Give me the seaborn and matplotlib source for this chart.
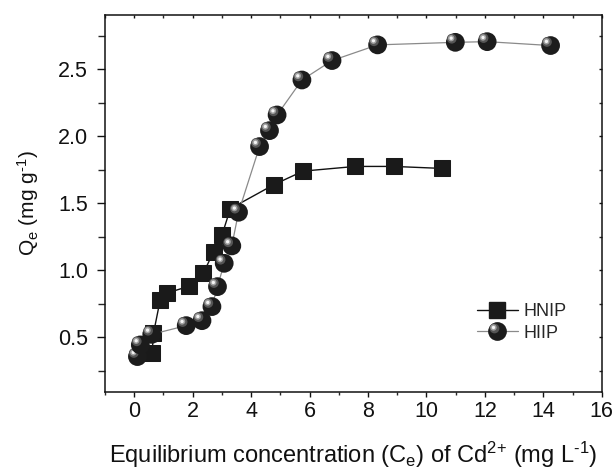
import numpy as np
import pandas as pd
import matplotlib
matplotlib.use("Agg")
import matplotlib.pyplot as plt
import matplotlib.transforms as mtransforms
from matplotlib.legend_handler import HandlerLine2D
from matplotlib.lines import Line2D
import seaborn as sns

# ---- data ----
hnip_x = [0.61, 0.66, 0.89, 1.12, 1.86, 2.37, 2.72, 3.00, 3.29, 4.79, 5.78, 7.57, 8.88, 10.54]
hnip_y = [0.38, 0.53, 0.78, 0.83, 0.88, 0.98, 1.14, 1.26, 1.46, 1.64, 1.74, 1.775, 1.775, 1.76]
hiip_x = [0.11, 0.21, 0.60, 1.78, 2.32, 2.66, 2.85, 3.08, 3.34, 3.57, 4.29, 4.63, 4.89,
          5.74, 6.77, 8.33, 10.99, 12.08, 14.25]
hiip_y = [0.356, 0.443, 0.522, 0.587, 0.624, 0.729, 0.878, 1.052, 1.182, 1.433, 1.923,
          2.042, 2.159, 2.420, 2.565, 2.682, 2.701, 2.706, 2.677]
series_names = ["HNIP", "HIIP"]
x_ticks = [0, 2, 4, 6, 8, 10, 12, 14, 16]
y_ticks = [0.5, 1.0, 1.5, 2.0, 2.5]

sns.set_theme(style="ticks")
plt.rcParams["font.family"] = ["Liberation Sans", "DejaVu Sans"]
plt.rcParams["mathtext.fontset"] = "custom"
plt.rcParams["mathtext.rm"] = "Liberation Sans"
plt.rcParams["mathtext.it"] = "Liberation Sans:italic"
plt.rcParams["mathtext.bf"] = "Liberation Sans:bold"
plt.rcParams["mathtext.sf"] = "Liberation Sans"

fig = plt.figure(figsize=(6.14, 4.70), dpi=100)
ax = fig.add_axes([0.171, 0.1666, 0.809, 0.8015])

df_n = pd.DataFrame({"x": hnip_x, "y": hnip_y})
df_i = pd.DataFrame({"x": hiip_x, "y": hiip_y})

SPH_MS = 13.5
sns.lineplot(data=df_n, x="x", y="y", sort=False, estimator=None, ax=ax,
             color="#111111", lw=1.0, marker="s", markersize=12,
             markeredgecolor="#1a1a1a", markerfacecolor="#1a1a1a", zorder=3)
sns.lineplot(data=df_i, x="x", y="y", sort=False, estimator=None, ax=ax,
             color="#8a8a8a", lw=0.9, zorder=4)

# sphere markers: dark body + offset highlights, drawn per point so overlaps look right
off1 = mtransforms.offset_copy(ax.transData, fig=fig, x=-2.6, y=2.6, units="points")
off2 = mtransforms.offset_copy(ax.transData, fig=fig, x=-3.0, y=3.0, units="points")
z = 5
for xi, yi in zip(hiip_x, hiip_y):
    ax.scatter([xi], [yi], s=SPH_MS ** 2, c="#1c1c1c", edgecolors="none", zorder=z)
    ax.scatter([xi], [yi], s=7.0 ** 2, c="#555555", edgecolors="none", zorder=z + 0.1, transform=off1)
    ax.scatter([xi], [yi], s=4.6 ** 2, c="#a0a0a0", edgecolors="none", zorder=z + 0.2, transform=off2)
    ax.scatter([xi], [yi], s=2.4 ** 2, c="#f4f4f4", edgecolors="none", zorder=z + 0.3, transform=off2)
    z += 0.5

ax.set_xlim(-1, 16)
ax.set_ylim(0.094, 2.905)
ax.set_xticks(x_ticks)
ax.set_xticklabels([str(v) for v in x_ticks])
ax.set_xticks(np.arange(-1, 16, 2), minor=True)
ax.set_yticks(y_ticks)
ax.set_yticklabels([f"{v:.1f}" for v in y_ticks])
ax.set_yticks([0.25, 0.75, 1.25, 1.75, 2.25, 2.75], minor=True)

for sp in ax.spines.values():
    sp.set_linewidth(1.1)
    sp.set_color("#111111")

ax.tick_params(axis="x", which="major", direction="out", length=3.6, width=1.0,
               labelsize=15.5, pad=3.0, colors="#111111")
ax.tick_params(axis="x", which="minor", direction="out", length=2.4, width=1.0)
ax.tick_params(axis="y", which="major", direction="out", length=5.8, width=1.0,
               labelsize=15.5, pad=6.5, colors="#111111")
ax.tick_params(axis="y", which="minor", direction="out", length=5.0, width=1.0)
ax.tick_params(which="both", top=True, right=True)
# small inward ticks on top/right
for t in ax.xaxis.get_major_ticks() + ax.xaxis.get_minor_ticks():
    t.tick2line.set_markersize(2)
    t.tick2line.set_marker(matplotlib.lines.TICKDOWN)
for t in ax.yaxis.get_major_ticks() + ax.yaxis.get_minor_ticks():
    t.tick2line.set_markersize(2)
    t.tick2line.set_marker(matplotlib.lines.TICKLEFT)

ax.set_xlabel(r"Equilibrium concentration (C$_{\mathrm{e}}$) of Cd$^{\text{2+}}$ (mg L$^{\text{-1}}$)",
              fontsize=17, color="#111111")
ax.xaxis.set_label_coords(0.5, -0.127)
ax.set_ylabel(r"Q$_{\mathrm{e}}$ (mg g$^{\text{-1}}$)", fontsize=15, color="#111111")
ax.yaxis.set_label_coords(-0.128, 0.5)


class SphereHandler(HandlerLine2D):
    def create_artists(self, legend, orig_handle, xdescent, ydescent,
                       width, height, fontsize, trans):
        arts = super().create_artists(legend, orig_handle, xdescent, ydescent,
                                      width, height, fontsize, trans)
        line = arts[0]
        xd = line.get_xdata()
        yd = line.get_ydata()
        cx = xd[len(xd) // 2]
        cy = yd[len(yd) // 2]
        extra = []
        for dx, ms, col in [(-2.6, 7.0, "#555555"), (-3.0, 4.6, "#a0a0a0"), (-3.0, 2.4, "#f4f4f4")]:
            l = Line2D([cx + dx], [cy - dx], marker="o", ms=ms, color=col,
                       markeredgecolor="none", linestyle="none")
            l.set_transform(trans)
            extra.append(l)
        return arts + extra


h_n = Line2D([], [], color="#111111", lw=1.0, marker="s", ms=12,
             markerfacecolor="#1a1a1a", markeredgecolor="#1a1a1a")
h_i = Line2D([], [], color="#8a8a8a", lw=0.9, marker="o", ms=SPH_MS,
             markerfacecolor="#1c1c1c", markeredgecolor="none")
ax.legend([h_n, h_i], series_names, loc="upper left", bbox_to_anchor=(0.748, 0.235),
          frameon=False, fontsize=13, handlelength=2.3, handletextpad=0.3,
          labelspacing=0.25, borderpad=0, borderaxespad=0,
          handler_map={h_i: SphereHandler(numpoints=1), h_n: HandlerLine2D(numpoints=1)})

fig.savefig("out.png", dpi=100)
